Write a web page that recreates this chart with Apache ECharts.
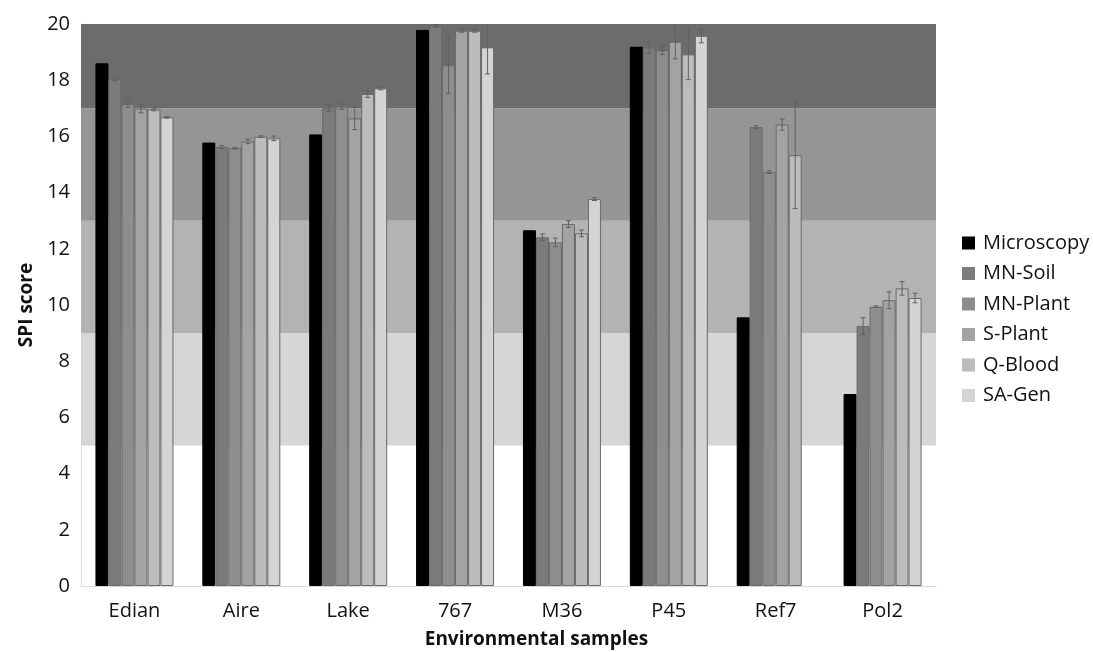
<!DOCTYPE html>
<html>
<head>
<meta charset="utf-8">
<script src="https://cdn.jsdelivr.net/npm/echarts@6/dist/echarts.min.js"></script>
<style>html,body{margin:0;padding:0;background:#fff}#chart{width:1093px;height:652px}</style>
</head>
<body>
<div id="chart"></div>
<script>
var categories = ['Edian', 'Aire', 'Lake', '767', 'M36', 'P45', 'Ref7', 'Pol2'];
var seriesNames = ['Microscopy', 'MN-Soil', 'MN-Plant', 'S-Plant', 'Q-Blood', 'SA-Gen'];

var microscopy = [18.6, 15.78, 16.07, 19.79, 12.66, 19.19, 9.56, 6.83];
var mnSoil     = [18.03, 15.63, 17.0, 19.93, 12.41, 19.16, 16.33, 9.25];
var mnPlant    = [17.15, 15.58, 17.06, 18.53, 12.23, 19.06, 14.73, 9.94];
var sPlant     = [16.99, 15.82, 16.64, 19.76, 12.88, 19.36, 16.42, 10.17];
var qBlood     = [16.96, 15.99, 17.51, 19.76, 12.55, 18.92, 15.33, 10.59];
var saGen      = [16.68, 15.93, 17.71, 19.17, 13.77, 19.58, null, 10.25];

var errMicroscopy = [0, 0, 0, 0, 0, 0, 0, 0];
var errMnSoil     = [0.05, 0.05, 0.12, 0.05, 0.12, 0.2, 0.05, 0.3];
var errMnPlant    = [0.12, 0.03, 0.1, 1.0, 0.15, 0.15, 0.05, 0.03];
var errSPlant     = [0.15, 0.08, 0.4, 0.05, 0.12, 0.6, 0.2, 0.3];
var errQBlood     = [0.05, 0.03, 0.12, 0.05, 0.12, 0.9, 1.9, 0.24];
var errSaGen      = [0.03, 0.08, 0.05, 0.95, 0.05, 0.25, 0, 0.17];

var bands = [[5, 9, '#d6d6d6'], [9, 13, '#b3b3b3'], [13, 17, '#959595'], [17, 20, '#6c6c6c']];
var yTicks = { min: 0, max: 20, interval: 2 };

var values = [microscopy, mnSoil, mnPlant, sPlant, qBlood, saGen];
var errors = [errMicroscopy, errMnSoil, errMnPlant, errSPlant, errQBlood, errSaGen];
var colors = ['#000000', '#7b7b7b', '#8e8e8e', '#a3a3a3', '#bcbcbc', '#d4d4d4'];
var BAR_W = 13;
var FONT = 'Open Sans';

var series = [];
series.push({
  type: 'line', data: [], silent: true, z: 0,
  markArea: {
    silent: true,
    itemStyle: { opacity: 1 },
    data: bands.map(function (b) {
      return [{ yAxis: b[0], itemStyle: { color: b[2] } }, { yAxis: b[1] }];
    })
  }
});
seriesNames.forEach(function (name, i) {
  series.push({
    name: name, type: 'bar', data: values[i], barWidth: BAR_W, barGap: '0%', z: 2,
    itemStyle: { color: colors[i], borderColor: i === 0 ? '#000' : '#6a6a6a', borderWidth: 1 }
  });
});
var errData = [];
for (var s = 0; s < values.length; s++) {
  for (var c = 0; c < categories.length; c++) {
    if (values[s][c] != null && errors[s][c] > 0) errData.push([c, values[s][c], errors[s][c], s]);
  }
}
series.push({
  type: 'custom', z: 3, silent: true, clip: true, data: errData,
  renderItem: function (params, api) {
    var c = api.value(0), v = api.value(1), e = api.value(2), s = api.value(3);
    var base = api.coord([c, v]);
    var x = base[0] + (s - 2.5) * BAR_W;
    var top = api.coord([c, v + e])[1];
    var bot = api.coord([c, v - e])[1];
    var st = { stroke: '#606060', lineWidth: 1 };
    return { type: 'group', children: [
      { type: 'line', shape: { x1: x, y1: top, x2: x, y2: bot }, style: st },
      { type: 'line', shape: { x1: x - 2.5, y1: top, x2: x + 2.5, y2: top }, style: st },
      { type: 'line', shape: { x1: x - 2.5, y1: bot, x2: x + 2.5, y2: bot }, style: st }
    ] };
  }
});

var chart = echarts.init(document.getElementById('chart'));
chart.setOption({
  animation: false,
  textStyle: { fontFamily: FONT },
  grid: { left: 81, right: 157, top: 24, bottom: 66, outerBoundsMode: 'none' },
  legend: {
    data: seriesNames, orient: 'vertical', left: 957, top: 228,
    itemWidth: 13, itemHeight: 13, itemGap: 10.5, icon: 'rect',
    itemStyle: { borderWidth: 0 },
    textStyle: { fontFamily: FONT, fontSize: 20, color: '#111', padding: [0, 0, 0, 3] }
  },
  xAxis: {
    type: 'category', data: categories,
    axisTick: { show: false },
    axisLine: { lineStyle: { color: '#d9d9d9' } },
    axisLabel: { fontFamily: FONT, fontSize: 20, color: '#111', margin: 15 },
    name: 'Environmental samples', nameLocation: 'middle', nameGap: 44,
    nameTextStyle: { fontFamily: FONT, fontSize: 19, fontWeight: 'bold', color: '#111', padding: [0, 0, 0, 56] }
  },
  yAxis: {
    type: 'value', min: yTicks.min, max: yTicks.max, interval: yTicks.interval,
    splitLine: { show: false },
    axisLine: { show: true, lineStyle: { color: '#d9d9d9' } },
    axisTick: { show: false },
    axisLabel: { fontFamily: FONT, fontSize: 20, color: '#111', margin: 11 },
    name: 'SPI score', nameLocation: 'middle', nameGap: 43,
    nameTextStyle: { fontFamily: FONT, fontSize: 19, fontWeight: 'bold', color: '#111' }
  },
  series: series
});
</script>
</body>
</html>
